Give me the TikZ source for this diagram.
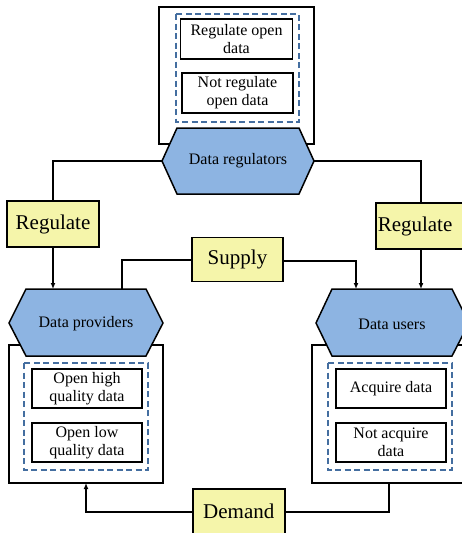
\documentclass[tikz,border=0pt]{standalone}
\usepackage{fontspec}
\setmainfont{Liberation Serif}
\usetikzlibrary{arrows.meta}
\definecolor{hexblue}{RGB}{141,180,226}
\definecolor{boxyellow}{RGB}{245,245,170}
\definecolor{dashblue}{RGB}{68,110,160}
\tikzset{
  outerbox/.style={draw=black, line width=1.5pt, fill=white},
  dashbox/.style={draw=dashblue, line width=1.2pt, dash pattern=on 6pt off 3.5pt},
  itembox/.style={draw=black, line width=1.5pt, fill=white, align=center, font=\fontsize{16}{18}\selectfont, inner sep=0pt},
  hexa/.style={draw=black, line width=1.5pt, fill=hexblue},
  actbox/.style={draw=black, line width=1.5pt, fill=boxyellow, font=\fontsize{21}{24}\selectfont, inner sep=0pt},
  conn/.style={draw=black, line width=1.5pt},
  arr/.style={conn, -{Latex[length=6pt,width=5pt]}},
  hextext/.style={font=\fontsize{16}{18}\selectfont}
}
\begin{document}
\begin{tikzpicture}[x=1pt,y=-1pt]
\clip (0,0) rectangle (462,533);
\fill[white] (0,0) rectangle (462,533);

% ---------- top: regulators ----------
\draw[outerbox] (159,7) rectangle (314,144);
\draw[dashbox] (176,14) rectangle (299,122);
\node[itembox, minimum width=112pt, minimum height=40pt] (ro) at (236.5,39) {Regulate open\\data};
\node[itembox, minimum width=111pt, minimum height=40pt] (nro) at (237.5,93) {Not regulate\\open data};
\draw[hexa] (162,161) -- (177,128) -- (299,128) -- (314,161) -- (299,194) -- (177,194) -- cycle;
\node[hextext] (dr) at (238,161) {Data regulators};
\coordinate (drL) at (162,161);
\coordinate (drR) at (314,161);

% ---------- left: providers ----------
\draw[outerbox] (9,345) rectangle (163,483);
\draw[dashbox] (24,363) rectangle (148,470);
\node[itembox, minimum width=110pt, minimum height=39pt] (ohq) at (87,388.5) {Open high\\quality data};
\node[itembox, minimum width=110pt, minimum height=39pt] (olq) at (87,442.5) {Open low\\quality data};
\draw[hexa] (9,323) -- (26,289) -- (146,289) -- (163,323) -- (146,356) -- (26,356) -- cycle;
\node[hextext] (dp) at (86,324) {Data providers};

% ---------- right: users ----------
\draw[outerbox] (312,345) rectangle (470,483);
\draw[dashbox] (328,363) rectangle (452,470);
\node[itembox, minimum width=110pt, minimum height=39pt] (aq) at (391,388.5) {Acquire data};
\node[itembox, minimum width=110pt, minimum height=39pt] (naq) at (391,442.5) {Not acquire\\data};
\draw[hexa] (316,323) -- (332,289) -- (452,289) -- (469,323) -- (452,356) -- (332,356) -- cycle;
\node[hextext] (du) at (392,324) {Data users};

% ---------- action boxes ----------
\node[actbox, minimum width=92pt, minimum height=46pt] (regL) at (53,224) {Regulate};
\node[actbox, minimum width=92pt, minimum height=46pt, anchor=west] (regR) at (375,226) {\hspace*{2pt}Regulate\hspace*{20pt}};
\node[actbox, minimum width=91pt, minimum height=44pt] (sup) at (237.5,259.5) {Supply};
\node[actbox, minimum width=92pt, minimum height=46pt, anchor=north west] (dem) at (192,488) {Demand};

\coordinate (dpTop) at (53,289);
\coordinate (dpTop2) at (122,289);
\coordinate (duTop) at (421,289);
\coordinate (duTop2) at (356,289);
\coordinate (dpBot) at (86,483);
\coordinate (duBot) at (389,483);

% ---------- connectors ----------
\draw[conn] (drL) -| (regL.north);
\draw[conn] (drR) -| (regR.north -| duTop);
\draw[arr] (regL.south) -- (dpTop);
\draw[arr] (regR.south -| duTop) -- (duTop);
\draw[conn] (sup.west |- 0,260) -| (dpTop2);
\draw[arr] (sup.east |- 0,261) -| (duTop2);
\draw[arr] (dem.west |- 0,512) -| (dpBot);
\draw[conn] (dem.east |- 0,512) -| (duBot);
\end{tikzpicture}
\end{document}
